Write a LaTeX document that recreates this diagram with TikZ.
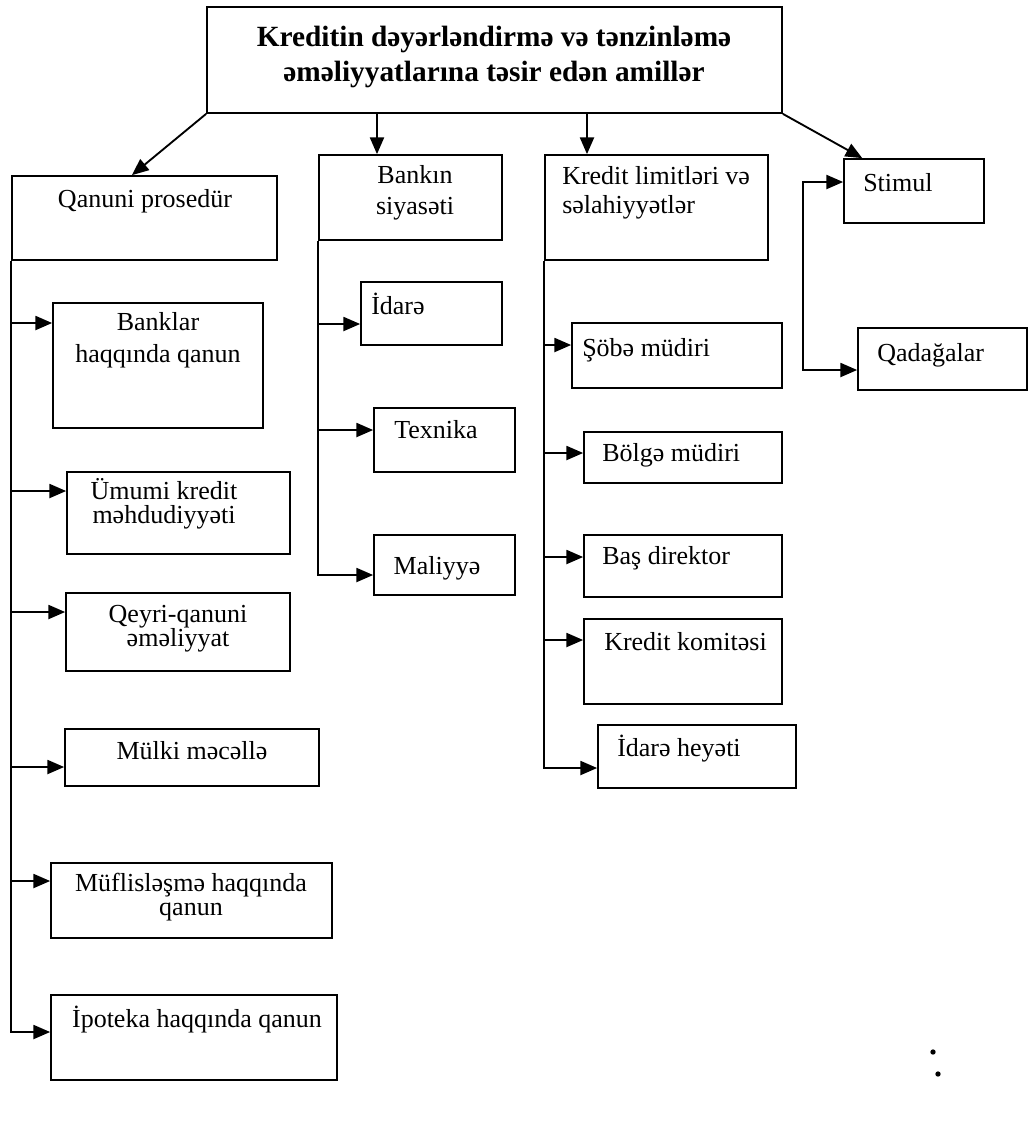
\documentclass[tikz,border=0pt]{standalone}
\usepackage{fontspec}
\setmainfont{Liberation Serif}
\usetikzlibrary{arrows.meta,fit,calc}
\begin{document}
\begin{tikzpicture}[x=0.75pt,y=-0.75pt,
  box/.style={draw,line width=1.3pt,inner sep=0pt},
  txt/.style={anchor=base,inner sep=0pt,font=\fontsize{19.5}{23}\selectfont},
  ltxt/.style={txt,anchor=base west},
  ttl/.style={anchor=base,inner sep=0pt,font=\fontsize{22}{26}\selectfont\bfseries},
  tip/.style={Triangle[length=12.5pt,width=10.5pt]},
  arr/.style={line width=1.4pt,-{Triangle[length=12.5pt,width=10.5pt]}},
  darr/.style={line width=1.4pt,{Triangle[length=12.5pt,width=10.5pt]}-{Triangle[length=12.5pt,width=10.5pt]}}]
\useasboundingbox (0,0) rectangle (1030,1122);

% title box
\node[box,fit={(207,7) (782,113)}] (top) {};
\node[ttl] (tt1) at (494,46) {Kreditin dəyərləndirmə və tənzinləmə};
\node[ttl] (tt2) at (494,81) {əməliyyatlarına təsir edən amillər};

% legal procedure column
\node[box,fit={(12,176) (277,260)}] (qp) {};
\node[txt] (qpt) at (145,207) {Qanuni prosedür};
\node[box,fit={(53,303) (263,428)}] (bq) {};
\node[txt] (bqt1) at (158,330) {Banklar};
\node[txt] (bqt2) at (158,362) {haqqında qanun};
\node[box,fit={(67,472) (290,554)}] (um) {};
\node[txt] (umt1) at (164,499) {Ümumi kredit};
\node[txt] (umt2) at (164,523) {məhdudiyyəti};
\node[box,fit={(66,593) (290,671)}] (qq) {};
\node[txt] (qqt1) at (178,622) {Qeyri-qanuni};
\node[txt] (qqt2) at (178,646) {əməliyyat};
\node[box,fit={(65,729) (319,786)}] (mm) {};
\node[txt] (mmt) at (192,759) {Mülki məcəllə};
\node[box,fit={(51,863) (332,938)}] (mf) {};
\node[txt] (mft1) at (191,891) {Müflisləşmə haqqında};
\node[txt] (mft2) at (191,915) {qanun};
\node[box,fit={(51,995) (337,1080)}] (ip) {};
\node[txt] (ipt) at (197,1027) {İpoteka haqqında qanun};

% bank policy column
\node[box,fit={(319,155) (502,240)}] (bs) {};
\node[txt] (bst1) at (415,183) {Bankın};
\node[txt] (bst2) at (415,214) {siyasəti};
\node[box,fit={(361,282) (502,345)}] (id) {};
\node[ltxt] (idt) at (371,314) {İdarə};
\node[box,fit={(374,408) (515,472)}] (tx) {};
\node[txt] (txt) at (436,438) {Texnika};
\node[box,fit={(374,535) (515,595)}] (ml) {};
\node[txt] (mlt) at (437,574) {Maliyyə};

% credit limits column
\node[box,fit={(545,155) (768,260)}] (kl) {};
\node[ltxt] (klt1) at (562,184) {Kredit limitləri və};
\node[ltxt] (klt2) at (562,213) {səlahiyyətlər};
\node[box,fit={(572,323) (782,388)}] (sb) {};
\node[ltxt] (sbt) at (582,356) {Şöbə müdiri};
\node[box,fit={(584,432) (782,483)}] (bg) {};
\node[ltxt] (bgt) at (602,461) {Bölgə müdiri};
\node[box,fit={(584,535) (782,597)}] (bd) {};
\node[ltxt] (bdt) at (602,564) {Baş direktor};
\node[box,fit={(584,619) (782,704)}] (kk) {};
\node[ltxt] (kkt) at (604,650) {Kredit komitəsi};
\node[box,fit={(598,725) (796,788)}] (ih) {};
\node[ltxt] (iht) at (617,756) {İdarə heyəti};

% incentives / restrictions
\node[box,fit={(844,159) (984,223)}] (st) {};
\node[ltxt] (stt) at (863,191) {Stimul};
\node[box,fit={(858,328) (1027,390)}] (qd) {};
\node[ltxt] (qdt) at (877,361) {Qadağalar};

% arrows from the title box
\coordinate (a1) at (377,0);
\coordinate (a2) at (587,0);
\draw[arr] (top.south west) -- ($(qp.north west)!0.453!(qp.north east)$);
\draw[arr] (top.south -| a1) -- (bs.north -| a1);
\draw[arr] (top.south -| a2) -- (kl.north -| a2);
\draw[arr] (top.south east) -- ($(st.north west)!0.135!(st.north east)$);

% legal procedure branches
\coordinate (q1) at (12,323);
\coordinate (q2) at (12,491);
\coordinate (q3) at (12,612);
\coordinate (q4) at (12,767);
\coordinate (q5) at (12,881);
\coordinate (q6) at (12,1032);
\draw[arr] (qp.south west) |- (ip.west |- q6);
\foreach \c/\b in {q1/bq,q2/um,q3/qq,q4/mm,q5/mf}
  \draw[arr] (\c) -- (\b.west |- \c);

% bank policy branches
\coordinate (b1) at (319,324);
\coordinate (b2) at (319,430);
\coordinate (b3) at (319,575);
\draw[arr] (bs.south west) |- (ml.west |- b3);
\foreach \c/\b in {b1/id,b2/tx}
  \draw[arr] (\c) -- (\b.west |- \c);

% credit limit branches
\coordinate (k1) at (545,345);
\coordinate (k2) at (545,453);
\coordinate (k3) at (545,557);
\coordinate (k4) at (545,640);
\coordinate (k5) at (545,768);
\draw[arr] (kl.south west) |- (ih.west |- k5);
\foreach \c/\b in {k1/sb,k2/bg,k3/bd,k4/kk}
  \draw[arr] (\c) -- (\b.west |- \c);

% incentives and restrictions
\coordinate (s1) at (803,182);
\coordinate (s2) at (803,370);
\draw[darr] (st.west |- s1) -| (s2) -- (qd.west |- s2);

% colon mark
\fill (933,1052) circle[radius=2pt];
\fill (938,1074) circle[radius=2pt];
\end{tikzpicture}
\end{document}
